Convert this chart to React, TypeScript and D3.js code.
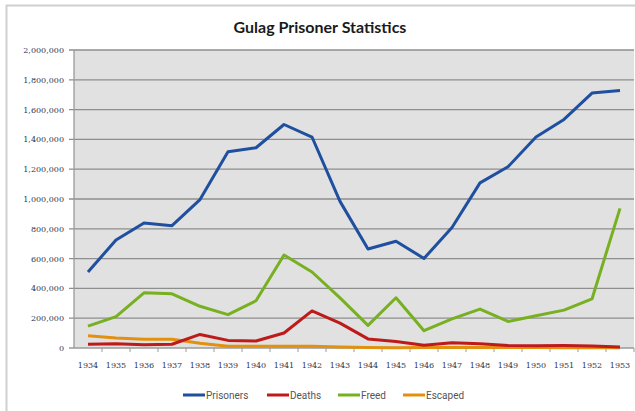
import * as d3 from "d3";

const years = ["1934", "1935", "1936", "1937", "1938", "1939", "1940", "1941", "1942", "1943",
  "1944", "1945", "1946", "1947", "1948", "1949", "1950", "1951", "1952", "1953"];

const prisoners = [510000, 725000, 839000, 821000, 996000, 1317000, 1344000, 1500000, 1416000, 984000,
  664000, 716000, 601000, 809000, 1108000, 1216000, 1416000, 1534000, 1711000, 1728000];
const deaths = [26000, 28000, 21000, 25000, 91000, 51000, 47000, 101000, 249000, 167000,
  61000, 44000, 18000, 36000, 28000, 16000, 15000, 16000, 14000, 6000];
const freed = [147000, 211000, 370000, 364000, 280000, 224000, 317000, 624000, 510000, 336000,
  152000, 337000, 116000, 195000, 261000, 178000, 216000, 254000, 329000, 937000];
const escaped = [83000, 67000, 58000, 58000, 32000, 12000, 12000, 11000, 12000, 6000,
  4000, 2000, 3000, 4000, 4000, 3000, 3000, 2000, 1000, 1000];

const seriesNames = ["Prisoners", "Deaths", "Freed", "Escaped"];
const seriesColors = ["#1f4f9f", "#bf1a1a", "#77b020", "#e39010"];
const seriesValues = [prisoners, deaths, freed, escaped];

const yTicks = [0, 200000, 400000, 600000, 800000, 1000000, 1200000, 1400000, 1600000, 1800000, 2000000];

const W = 635;
const H = 411;
const plot = { left: 74, right: 634, top: 50, bottom: 348 };

const App = () => {
  // the source chart only shows 1934-1953 minus two? keep all 20 categories
  const x = d3.scaleBand().domain(years).range([plot.left, plot.right]);
  const y = d3.scaleLinear().domain([0, 2000000]).range([plot.bottom, plot.top]);
  const fmt = d3.format(",");

  const line = (vals: number[]) =>
    d3.line<number>()
      .x((_, i) => (x(years[i]) as number) + x.bandwidth() / 2)
      .y((d) => y(d))(vals) as string;

  const legendX = [183, 267, 338, 403];

  return (
    <svg width={W} height={H} style={{ position: "absolute", left: 0, top: 0 }}>
      <rect x={0} y={0} width={W} height={H} fill="#fff" />
      <rect x={6.5} y={5.5} width={W + 10} height={H + 10} fill="none" stroke="#cfcfcf" strokeWidth={2} />
      <text x={320} y={33} textAnchor="middle" fontFamily="Lato, 'Open Sans', sans-serif" fontWeight="bold" fontSize={16} fill="#1a1a1a">
        Gulag Prisoner Statistics
      </text>

      <rect x={plot.left} y={plot.top} width={plot.right - plot.left} height={plot.bottom - plot.top} fill="#e1e1e1" />
      {yTicks.map((t) => (
        <g key={t}>
          <line x1={plot.left - 5} x2={plot.right} y1={y(t)} y2={y(t)} stroke={t === 0 ? "#9a9a9a" : "#8e8e8e"} strokeWidth={1.3} />
          <text x={64} y={y(t) + 3} textAnchor="end" fontFamily="'DejaVu Serif', serif" fontSize={8} fill="#2f3550">
            {fmt(t)}
          </text>
        </g>
      ))}
      <line x1={plot.left} x2={plot.left} y1={plot.top} y2={plot.bottom} stroke="#9a9a9a" strokeWidth={1.3} />
      {years.map((yr, i) => (
        <g key={yr}>
          <line x1={(x(yr) as number) + x.bandwidth()} x2={(x(yr) as number) + x.bandwidth()} y1={plot.bottom} y2={plot.bottom + 4} stroke="#9a9a9a" />
          <text x={(x(yr) as number) + x.bandwidth() / 2} y={368} textAnchor="middle" fontFamily="'DejaVu Serif', serif" fontSize={8} fill="#2f3550">
            {yr}
          </text>
        </g>
      ))}

      {seriesValues.map((vals, i) => (
        <path key={seriesNames[i]} d={line(vals)} fill="none" stroke={seriesColors[i]} strokeWidth={3} strokeLinejoin="round" />
      )).reverse()}

      {seriesNames.map((name, i) => (
        <g key={name}>
          <line x1={legendX[i]} x2={legendX[i] + 22} y1={395} y2={395} stroke={seriesColors[i]} strokeWidth={3} />
          <text x={legendX[i] + 23} y={398.5} fontFamily="Roboto, sans-serif" fontSize={10} fill="#555">
            {name}
          </text>
        </g>
      ))}
    </svg>
  );
};

export default App;
